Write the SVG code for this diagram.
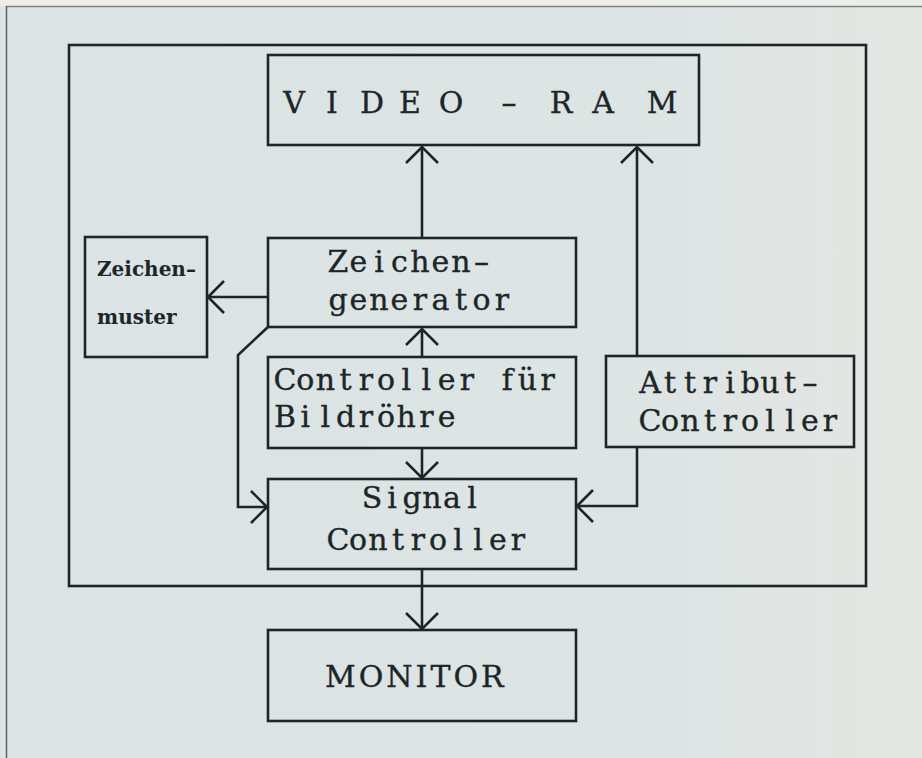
<svg xmlns="http://www.w3.org/2000/svg" width="922" height="758" viewBox="0 0 922 758">
<defs>
<style>
.box{fill:none;stroke:#1c2626;stroke-width:2.6}
.ln{fill:none;stroke:#1c2626;stroke-width:2.6;stroke-linejoin:miter}
.mono{font-family:"DejaVu Serif","Liberation Serif",serif;font-size:30px;fill:#1c2626;stroke:#1c2626;stroke-width:0.35;text-anchor:middle}
.ser{font-family:"DejaVu Serif","Liberation Serif",serif;font-size:30px;fill:#1c2626;stroke:#1c2626;stroke-width:0.35;text-anchor:middle}
.mon{font-family:"DejaVu Serif","Liberation Serif",serif;font-size:30px;fill:#1c2626;stroke:#1c2626;stroke-width:0.35;letter-spacing:3px}
.bold{font-family:"DejaVu Serif","Liberation Serif",serif;font-weight:bold;font-size:20px;fill:#1c2626}
</style>
<linearGradient id="bgg" x1="0" y1="0" x2="1" y2="0">
<stop offset="0" stop-color="#dbe3e4"/>
<stop offset="0.7" stop-color="#dde4e4"/>
<stop offset="1" stop-color="#e4e7e3"/>
</linearGradient>
<marker id="arr" markerUnits="userSpaceOnUse" viewBox="-20 -20 40 40" markerWidth="40" markerHeight="40" refX="0" refY="0" orient="auto">
<path d="M-16,-16 L0,0 L-16,16" fill="none" stroke="#1c2626" stroke-width="2.6"/>
</marker>
</defs>
<rect x="0" y="0" width="922" height="758" fill="url(#bgg)"/>
<rect x="0" y="0" width="922" height="6" fill="#eceee9"/>
<line x1="6" y1="6.5" x2="922" y2="6.5" stroke="#7d8585" stroke-width="1.5"/>
<line x1="6.5" y1="6" x2="6.5" y2="758" stroke="#5a6262" stroke-width="1.5"/>

<g id="frame">
<rect class="box" x="69" y="45" width="797" height="541"/>
</g>

<g id="connectors">
<path class="ln" d="M422,238 L422,147" marker-end="url(#arr)"/>
<path class="ln" d="M637,356 L637,147" marker-end="url(#arr)"/>
<path class="ln" d="M268,297 L208,297" marker-end="url(#arr)"/>
<path class="ln" d="M422,357 L422,329" marker-end="url(#arr)"/>
<path class="ln" d="M422,448 L422,478" marker-end="url(#arr)"/>
<path class="ln" d="M268,327 L238,355 L238,507 L267,507" marker-end="url(#arr)"/>
<path class="ln" d="M637,447 L637,506 L577,506" marker-end="url(#arr)"/>
<path class="ln" d="M422,569 L422,629" marker-end="url(#arr)"/>
</g>

<g id="video-ram">
<rect class="box" x="268" y="55" width="431" height="90"/>
<text class="ser" y="113"><tspan x="294">V</tspan><tspan x="332">I</tspan><tspan x="372">D</tspan><tspan x="410">E</tspan><tspan x="451">O</tspan><tspan x="509">–</tspan><tspan x="561">R</tspan><tspan x="603">A</tspan><tspan x="662">M</tspan></text>
</g>

<g id="zeichenmuster">
<rect class="box" x="85" y="237" width="122" height="120"/>
<text class="bold" x="97" y="276">Zeichen–</text>
<text class="bold" x="97" y="324">muster</text>
</g>

<g id="zeichengenerator">
<rect class="box" x="268" y="238" width="308" height="89"/>
<text class="mono" x="338 358.5 379 399.5 420 440.5 461 481.5" y="272">Zeichen–</text>
<text class="mono" x="338 358.5 379 399.5 420 440.5 461 481.5 502" y="310">generator</text>
</g>

<g id="controller-bildroehre">
<rect class="box" x="268" y="357" width="308" height="91"/>
<text class="mono" x="285 305.2 325.4 345.6 365.8 386 406.2 426.4 446.6 466.8 487 507.2 527.4 547.6" y="390">Controller für</text>
<text class="mono" x="285 305.2 325.4 345.6 365.8 386 406.2 426.4 446.6" y="427">Bildröhre</text>
</g>

<g id="attribut-controller">
<rect class="box" x="606" y="356" width="248" height="91"/>
<text class="mono" x="650 670 690 710 730 750 770 790 810" y="393">Attribut–</text>
<text class="mono" x="650 670 690 710 730 750 770 790 810 830" y="431">Controller</text>
</g>

<g id="signal-controller">
<rect class="box" x="268" y="479" width="308" height="90"/>
<text class="mono" x="372 392 412 432 452 472" y="508">Signal</text>
<text class="mono" x="338 358 378 398 418 438 458 478 498 518" y="550">Controller</text>
</g>

<g id="monitor">
<rect class="box" x="268" y="630" width="308" height="91"/>
<text class="mon" x="325" y="687">MONITOR</text>
</g>
</svg>
